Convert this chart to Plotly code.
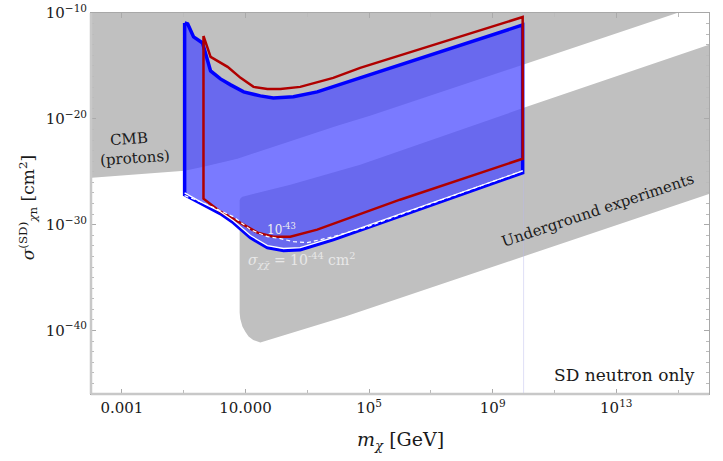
import numpy as np
import plotly.graph_objects as go

# ---------------- data (log10 of mass [GeV], log10 of cross-section [cm^2]) ----------------
# CMB (protons) exclusion: lower boundary
cmb_log_m = [-4.5, -3.97, -0.97, -0.36, 0.74, 1.81, 2.87, 3.97, 5.03, 10.10, 14.94, 16.5]
cmb_log_s = [-25.6, -25.57, -24.91, -24.53, -23.77, -22.74, -21.70, -20.66, -19.72, -14.72, -10.0, -8.5]

# Underground experiments: upper (overburden) boundary, then lower boundary
ug_up_log_m = [0.81, 0.84, 0.90, 1.16, 1.48, 2.45, 4.71, 10.10, 16.5]
ug_up_log_s = [-27.70, -27.50, -27.36, -27.17, -26.98, -26.23, -24.34, -18.87, -12.5]
ug_lo_log_m = [0.81, 0.83, 0.90, 1.00, 1.10, 1.25, 1.48, 4.23, 16.5]
ug_lo_log_s = [-38.30, -38.90, -39.62, -40.15, -40.57, -40.90, -41.13, -38.68, -26.6]

# Blue excluded region
blue_top_log_m = [-0.97, -0.87, -0.68, -0.39, -0.13, 0.19, 0.52, 0.94, 1.48, 1.90, 2.55, 3.32, 4.71, 9.97]
blue_top_log_s = [-10.94, -11.04, -12.26, -12.83, -15.47, -16.23, -16.79, -17.45, -17.83, -18.02, -17.92, -17.45, -16.13, -11.13]
blue_bot_log_m = [-0.97, -0.45, 0.19, 0.61, 1.16, 1.71, 2.23, 2.77, 3.84, 4.94, 6.00, 9.97]
blue_bot_log_s = [-27.17, -28.02, -28.96, -29.81, -31.23, -32.17, -32.45, -32.36, -31.42, -30.28, -29.25, -25.09]

# Red contour
red_top_log_m = [-0.36, -0.13, 0.42, 0.84, 1.26, 1.71, 2.13, 2.77, 3.84, 4.71, 9.97]
red_top_log_s = [-12.17, -14.15, -15.09, -16.13, -16.98, -17.17, -17.17, -16.98, -16.13, -15.19, -10.38]
red_bot_log_m = [-0.36, 0.19, 0.84, 1.39, 1.90, 2.45, 3.32, 4.39, 6.00, 9.97]
red_bot_log_s = [-27.55, -28.77, -29.81, -30.75, -31.13, -31.13, -30.47, -29.34, -27.64, -23.77]

# sigma_chichibar = 1e-43 (dashed) and 1e-44 (solid) curves
s43_log_m = [-0.97, -0.45, 0.61, 1.16, 1.71, 2.13, 2.55, 3.00, 3.84, 4.94, 6.00, 9.97]
s43_log_s = [-27.26, -27.83, -29.25, -30.47, -31.13, -31.32, -31.60, -31.70, -31.13, -30.19, -29.06, -24.91]
s44_log_m = [-0.97, -0.45, 0.19, 0.61, 1.16, 1.71, 2.23, 2.77, 3.84, 4.94, 6.00, 9.97]
s44_log_s = [-27.0, -27.85, -28.78, -29.62, -31.03, -31.97, -32.25, -32.16, -31.22, -30.08, -29.05, -24.92]

vline_log_m = 10.0

x_tick_vals = [-3, 1, 5, 9, 13]
x_tick_text = ["0.001", "10.000", "10<sup>5</sup>", "10<sup>9</sup>", "10<sup>13</sup>"]
x_minor_vals = [-1, 3, 7, 11, 15]
y_tick_vals = [-10, -20, -30, -40]
y_tick_text = ["10<sup>−10</sup>", "10<sup>−20</sup>", "10<sup>−30</sup>", "10<sup>−40</sup>"]
y_minor_vals = [v for v in range(-46, -9) if v % 10 != 0]

# ---------------- figure ----------------
P = lambda a: np.power(10.0, np.array(a, dtype=float))
GRAY = "#c0c0c0"
FONT = "DejaVu Serif"
TXT = "#1a1a1a"

fig = go.Figure()

# CMB region (above boundary)
fig.add_trace(go.Scatter(
    x=P(cmb_log_m + [16.5, -4.5]), y=P(cmb_log_s + [-8.5, -8.5]),
    fill="toself", fillcolor=GRAY, line=dict(width=0), mode="lines", hoverinfo="skip"))

# Underground region
fig.add_trace(go.Scatter(
    x=P(ug_up_log_m + ug_lo_log_m[::-1]), y=P(ug_up_log_s + ug_lo_log_s[::-1]),
    fill="toself", fillcolor=GRAY, line=dict(width=0),
    mode="lines", hoverinfo="skip"))

# thin vertical guide line
fig.add_trace(go.Scatter(
    x=P([vline_log_m, vline_log_m]), y=P([-46, -10]), mode="lines",
    line=dict(color="rgba(185,185,235,0.45)", width=1), hoverinfo="skip"))

# Blue region
fig.add_trace(go.Scatter(
    x=P(blue_top_log_m + blue_bot_log_m[::-1] + blue_top_log_m[:1]),
    y=P(blue_top_log_s + blue_bot_log_s[::-1] + blue_top_log_s[:1]),
    fill="toself", fillcolor="rgba(73,73,255,0.73)", mode="lines",
    line=dict(color="#0000ff", width=3.5), hoverinfo="skip"))

# Red contour
fig.add_trace(go.Scatter(
    x=P(red_top_log_m + red_bot_log_m[::-1] + red_top_log_m[:1]),
    y=P(red_top_log_s + red_bot_log_s[::-1] + red_top_log_s[:1]),
    mode="lines", line=dict(color="#b00000", width=2.5), hoverinfo="skip"))

# white curves
fig.add_trace(go.Scatter(
    x=P(s44_log_m), y=P(s44_log_s), mode="lines",
    line=dict(color="white", width=1.3), hoverinfo="skip"))
fig.add_trace(go.Scatter(
    x=P(s43_log_m), y=P(s43_log_s), mode="lines",
    line=dict(color="white", width=1.2, dash="4px,3px"), hoverinfo="skip"))

ann_font = dict(family=FONT, size=15, color=TXT)
annotations = [
    dict(x=-2.77, y=-21.9, text="CMB", textangle=-4, font=ann_font),
    dict(x=-2.58, y=-23.7, text="(protons)", textangle=-4, font=ann_font),
    dict(x=12.42, y=-28.6, text="Underground experiments", textangle=-18.5, font=ann_font),
    dict(x=2.16, y=-30.4, text="10<sup>-43</sup>",
         font=dict(family=FONT, size=12, color="#eeeeee")),
    dict(x=2.8, y=-33.3, text="<i>σ</i><sub><i>χχ̄</i></sub> = 10<sup>-44</sup> cm<sup>2</sup>",
         font=dict(family=FONT, size=14, color="#e8e8e8")),
    dict(xref="paper", yref="paper", x=0.981, y=0.05, xanchor="right", yanchor="middle",
         text="SD neutron only", font=dict(family=FONT, size=17, color=TXT)),
    # axis titles
    dict(xref="paper", yref="paper", x=0.5, y=-0.123, xanchor="center", yanchor="middle",
         text="<i>m</i><sub><i>χ</i></sub> [GeV]", font=dict(family=FONT, size=19, color=TXT)),
    dict(xref="paper", yref="paper", x=-0.102, y=0.49, xanchor="center", yanchor="middle",
         textangle=-90,
         text="<i>σ</i><sup>(SD)</sup><sub><i>χ</i>n</sub> [cm<sup>2</sup>]",
         font=dict(family=FONT, size=17, color=TXT)),
]
for a in annotations:
    a.setdefault("showarrow", False)
    a.setdefault("xref", "x")
    a.setdefault("yref", "y")

fig.update_layout(
    width=723, height=461,
    margin=dict(l=91, r=14, t=13, b=67, autoexpand=False),
    paper_bgcolor="white", plot_bgcolor="white",
    showlegend=False,
    hovermode=False,
    annotations=annotations,
    font=dict(family=FONT, size=15, color=TXT),
    xaxis=dict(
        type="log", range=[-4, 16], showgrid=False, zeroline=False, automargin=False,
        ticklabeloverflow="allow",
        tickmode="array", tickvals=P(x_tick_vals), ticktext=x_tick_text,
        ticks="inside", ticklen=5, tickcolor="#aaaaaa", tickwidth=1,
        minor=dict(tickmode="array", tickvals=P(x_minor_vals), ticks="inside",
                   ticklen=4, tickcolor="#bbbbbb", showgrid=False),
        showline=True, linecolor="#a8a8a8", linewidth=1, mirror="ticks",
        tickfont=dict(family=FONT, size=15, color=TXT),
    ),
    yaxis=dict(
        type="log", range=[-46, -10], showgrid=False, zeroline=False, automargin=False,
        ticklabeloverflow="allow",
        tickmode="array", tickvals=P(y_tick_vals), ticktext=y_tick_text,
        ticks="inside", ticklen=5, tickcolor="#aaaaaa", tickwidth=1,
        minor=dict(tickmode="array", tickvals=P(y_minor_vals), ticks="inside",
                   ticklen=3, tickcolor="#bbbbbb", showgrid=False),
        showline=True, linecolor="#a8a8a8", linewidth=1, mirror="ticks",
        tickfont=dict(family=FONT, size=15, color=TXT),
    ),
    shapes=[
        dict(type="line", xref="paper", yref="paper", x0=0, x1=1, y0=0, y1=0,
             line=dict(color="#c8c8c8", width=2.5), layer="above"),
        dict(type="line", xref="paper", yref="paper", x0=0, x1=0, y0=0, y1=1,
             line=dict(color="#c8c8c8", width=2.5), layer="above"),
    ],
)

fig.write_html("out.html",
               config={"displayModeBar": False, "staticPlot": True},
               post_script="document.body.style.margin='0px';document.body.style.overflow='hidden';")
